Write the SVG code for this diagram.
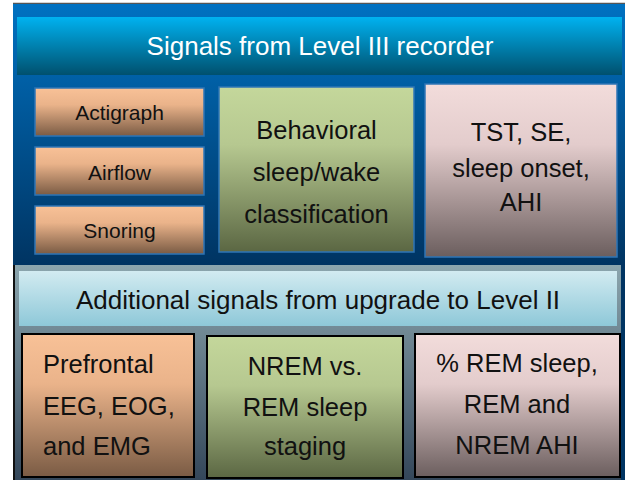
<svg xmlns="http://www.w3.org/2000/svg" width="625" height="480" viewBox="0 0 625 480">
<defs>
<linearGradient id="gUpper" x1="0" y1="0" x2="0" y2="1"><stop offset="0" stop-color="#0071c1"/><stop offset="1" stop-color="#003462"/></linearGradient>
<linearGradient id="gLower" x1="0" y1="0" x2="0" y2="1"><stop offset="0" stop-color="#8ca6ae"/><stop offset="1" stop-color="#34475a"/></linearGradient>
<linearGradient id="gTitle" x1="0" y1="0" x2="0" y2="1"><stop offset="0" stop-color="#00b2f0"/><stop offset="1" stop-color="#00506e"/></linearGradient>
<linearGradient id="gTitle2" x1="0" y1="0" x2="0" y2="1"><stop offset="0" stop-color="#d2ebf1"/><stop offset="1" stop-color="#8ec8d8"/></linearGradient>
<linearGradient id="gOrange" x1="0" y1="0" x2="0" y2="1"><stop offset="0" stop-color="#f8c197"/><stop offset="0.35" stop-color="#eab38a"/><stop offset="1" stop-color="#7a5b44"/></linearGradient>
<linearGradient id="gGreen" x1="0" y1="0" x2="0" y2="1"><stop offset="0" stop-color="#c4d79b"/><stop offset="0.35" stop-color="#b6c890"/><stop offset="1" stop-color="#5b6743"/></linearGradient>
<linearGradient id="gPink" x1="0" y1="0" x2="0" y2="1"><stop offset="0" stop-color="#f2dcdb"/><stop offset="0.35" stop-color="#e3cccc"/><stop offset="1" stop-color="#6b5e5e"/></linearGradient>
</defs>
<style>
text{font-family:"Liberation Sans",Arial,sans-serif;fill:#111;text-anchor:middle}
.t1{font-size:26px;fill:#fff}
.t2{font-size:26px}
.sm{font-size:21px}
.md{font-size:25.5px}
.ub{stroke:#2e75b6;stroke-width:1.5}
.lb{stroke:#000;stroke-width:2}
</style>
<rect x="0" y="0" width="625" height="480" fill="#fff"/>
<line x1="13" y1="3.5" x2="625" y2="3.5" stroke="#555" stroke-width="1.5"/>
<rect x="13" y="4" width="612" height="476" fill="#003462"/>
<rect id="upperPanel" x="13" y="4" width="612" height="261" fill="url(#gUpper)"/>
<rect id="lowerPanel" x="13" y="265" width="608" height="215" fill="url(#gLower)"/>
<line x1="14" y1="265" x2="14" y2="480" stroke="#111" stroke-width="2"/>
<g id="title1">
<rect x="17" y="17" width="605" height="58" fill="url(#gTitle)"/>
<text class="t1" x="320" y="55">Signals from Level III recorder</text>
</g>
<g id="actigraph">
<rect class="ub" x="35" y="88" width="169" height="48" fill="url(#gOrange)"/>
<text class="sm" x="119.5" y="120">Actigraph</text>
</g>
<g id="airflow">
<rect class="ub" x="35" y="147" width="169" height="48" fill="url(#gOrange)"/>
<text class="sm" x="119.5" y="180">Airflow</text>
</g>
<g id="snoring">
<rect class="ub" x="35" y="206" width="169" height="48" fill="url(#gOrange)"/>
<text class="sm" x="119.5" y="238">Snoring</text>
</g>
<g id="behavioral">
<rect class="ub" x="219" y="87" width="195" height="165" fill="url(#gGreen)"/>
<text class="md" x="316.5" y="139">Behavioral</text>
<text class="md" x="316.5" y="181">sleep/wake</text>
<text class="md" x="316.5" y="223">classification</text>
</g>
<g id="tst">
<rect class="ub" x="425" y="84" width="192" height="173" fill="url(#gPink)"/>
<text class="md" x="521" y="141">TST, SE,</text>
<text class="md" x="521" y="177">sleep onset,</text>
<text class="md" x="521" y="211">AHI</text>
</g>
<g id="title2">
<rect x="19" y="271" width="598" height="55" fill="url(#gTitle2)"/>
<text class="t2" x="318" y="309">Additional signals from upgrade to Level II</text>
</g>
<g id="prefrontal">
<rect class="lb" x="22" y="334" width="172" height="143" fill="url(#gOrange)"/>
<text class="md" x="43" y="373" style="text-anchor:start">Prefrontal</text>
<text class="md" x="43" y="415" style="text-anchor:start">EEG, EOG,</text>
<text class="md" x="43" y="455" style="text-anchor:start">and EMG</text>
</g>
<g id="nrem">
<rect class="lb" x="207" y="336" width="196" height="142" fill="url(#gGreen)"/>
<text class="md" x="305" y="375">NREM vs.</text>
<text class="md" x="305" y="416">REM sleep</text>
<text class="md" x="305" y="455">staging</text>
</g>
<g id="rem">
<rect class="lb" x="415" y="334" width="205" height="143" fill="url(#gPink)"/>
<text class="md" x="517" y="372">% REM sleep,</text>
<text class="md" x="517" y="413">REM and</text>
<text class="md" x="517" y="454">NREM AHI</text>
</g>
<g id="connectors"/>
</svg>
